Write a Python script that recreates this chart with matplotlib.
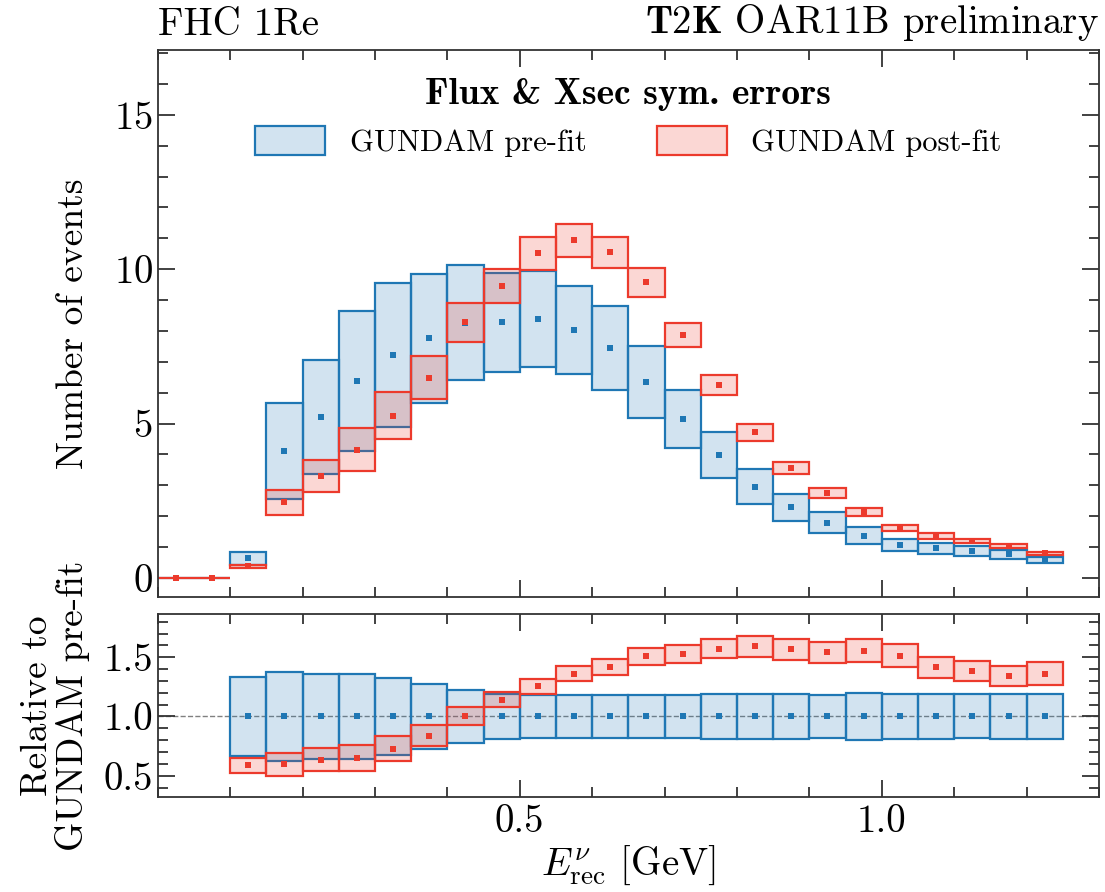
import numpy as np
import matplotlib
matplotlib.use("Agg")
import matplotlib.pyplot as plt
from matplotlib.patches import Patch
from matplotlib.ticker import MultipleLocator, FixedLocator, FormatStrFormatter
from matplotlib.colors import to_rgba

plt.rcParams.update({
    "font.family": "serif",
    "font.serif": ["cmr10"],
    "mathtext.fontset": "cm",
    "axes.formatter.use_mathtext": True,
    "axes.unicode_minus": False,
})

# bin edges in E_rec [GeV]
bin_edges = [0.00, 0.05, 0.10, 0.15, 0.20, 0.25, 0.30, 0.35, 0.40, 0.45, 0.50, 0.55, 0.60,
             0.65, 0.70, 0.75, 0.80, 0.85, 0.90, 0.95, 1.00, 1.05, 1.10, 1.15, 1.20, 1.25]

# GUNDAM pre-fit: central value and symmetric flux+xsec error
prefit = [0.0, 0.0, 0.63, 4.12, 5.21, 6.38, 7.22, 7.76, 8.27, 8.28, 8.39, 8.03, 7.45,
          6.35, 5.15, 3.97, 2.96, 2.28, 1.79, 1.37, 1.07, 0.96, 0.86, 0.76, 0.58]
prefit_err = [0.0, 0.0, 0.21, 1.55, 1.85, 2.28, 2.33, 2.10, 1.87, 1.60, 1.55, 1.44, 1.35,
              1.17, 0.93, 0.74, 0.57, 0.44, 0.33, 0.27, 0.20, 0.18, 0.16, 0.145, 0.11]

# GUNDAM post-fit
postfit = [0.0, 0.0, 0.37, 2.45, 3.31, 4.15, 5.26, 6.49, 8.28, 9.46, 10.52, 10.93, 10.55,
           9.57, 7.87, 6.24, 4.71, 3.57, 2.76, 2.13, 1.62, 1.36, 1.19, 1.02, 0.79]
postfit_err = [0.0, 0.0, 0.04, 0.41, 0.52, 0.69, 0.76, 0.69, 0.63, 0.54, 0.53, 0.52, 0.50,
               0.46, 0.38, 0.32, 0.26, 0.20, 0.16, 0.13, 0.105, 0.085, 0.075, 0.065, 0.055]

BLUE = "#1f77b4"
RED = "#ec3a2c"

edges = np.array(bin_edges)
centers = 0.5 * (edges[:-1] + edges[1:])
widths = np.diff(edges)
pre, pre_e = np.array(prefit), np.array(prefit_err)
post, post_e = np.array(postfit), np.array(postfit_err)


def boxes(ax, x, w, val, err, color, ms=5):
    ax.bar(x, 2 * err, bottom=val - err, width=w, facecolor=to_rgba(color, 0.2),
           edgecolor=color, linewidth=1.6, zorder=2)
    ax.plot(x, val, "s", ms=ms, color=color, mew=0, zorder=3)


fig = plt.figure(figsize=(11.05, 8.92), dpi=100)
ax = fig.add_axes([0.1427, 0.3307, 0.8519, 0.6132])
axr = fig.add_axes([0.1427, 0.1065, 0.8519, 0.2052])

# top panel
boxes(ax, centers, widths, pre, pre_e, BLUE)
boxes(ax, centers, widths, post, post_e, RED)
ax.set_xlim(0, 1.3)
ax.set_ylim(-0.62, 17.1)
ax.set_ylabel("Number of events", fontsize=27)
ax.tick_params(labelbottom=False)
ax.yaxis.set_major_locator(MultipleLocator(5))
ax.yaxis.set_minor_locator(MultipleLocator(1))

ax.text(0, 1.012, "FHC 1Re", transform=ax.transAxes, ha="left", va="bottom", fontsize=28)
ax.text(1, 1.012, r"$\mathbf{T2K}$ OAR11B preliminary", transform=ax.transAxes,
        ha="right", va="bottom", fontsize=28)

handles = [Patch(facecolor=to_rgba(BLUE, 0.2), edgecolor=BLUE, linewidth=1.6),
           Patch(facecolor=to_rgba(RED, 0.2), edgecolor=RED, linewidth=1.6)]
leg = ax.legend(handles, ["GUNDAM pre-fit", "GUNDAM post-fit"], loc="upper center",
                ncol=2, frameon=False, fontsize=22, title="Flux & Xsec sym. errors",
                title_fontproperties={"family": "cmb10", "size": 27},
                handlelength=2.3, handleheight=1.1, columnspacing=2.3,
                bbox_to_anchor=(0.5, 1.0))

# ratio panel (bins with no pre-fit events are left out)
m = pre > 0
rel_pre = pre_e[m] / pre[m]
ratio = post[m] / pre[m]
rel_post = post_e[m] / pre[m]
axr.axhline(1.0, color="grey", ls="--", lw=1.0, zorder=1)
boxes(axr, centers[m], widths[m], np.ones(m.sum()), rel_pre, BLUE)
boxes(axr, centers[m], widths[m], ratio, rel_post, RED)
axr.set_xlim(0, 1.3)
axr.set_ylim(0.32, 1.865)
axr.yaxis.set_major_locator(MultipleLocator(0.5))
axr.yaxis.set_minor_locator(MultipleLocator(0.1))
axr.set_ylabel("Relative to\nGUNDAM pre-fit", fontsize=27, linespacing=1.05)
axr.set_xlabel(r"$E^{\nu}_{\mathrm{rec}}$ [GeV]", fontsize=28, labelpad=3)

for a in (ax, axr):
    a.xaxis.set_major_locator(FixedLocator([0.5, 1.0]))
    a.xaxis.set_minor_locator(MultipleLocator(0.1))
    a.tick_params(which="both", direction="in", top=True, right=True, width=1.3,
                  color="#333333", labelsize=28)
    a.tick_params(which="major", length=12)
    a.tick_params(which="minor", length=7)
    for s in a.spines.values():
        s.set_linewidth(1.3)
        s.set_color("#333333")
    a.yaxis.set_label_coords(-0.072, 0.5)

axr.tick_params(axis="x", pad=5)
axr.xaxis.set_major_formatter(FormatStrFormatter("%.1f"))
axr.yaxis.set_major_formatter(FormatStrFormatter("%.1f"))

fig.savefig("out.png", dpi=100)
